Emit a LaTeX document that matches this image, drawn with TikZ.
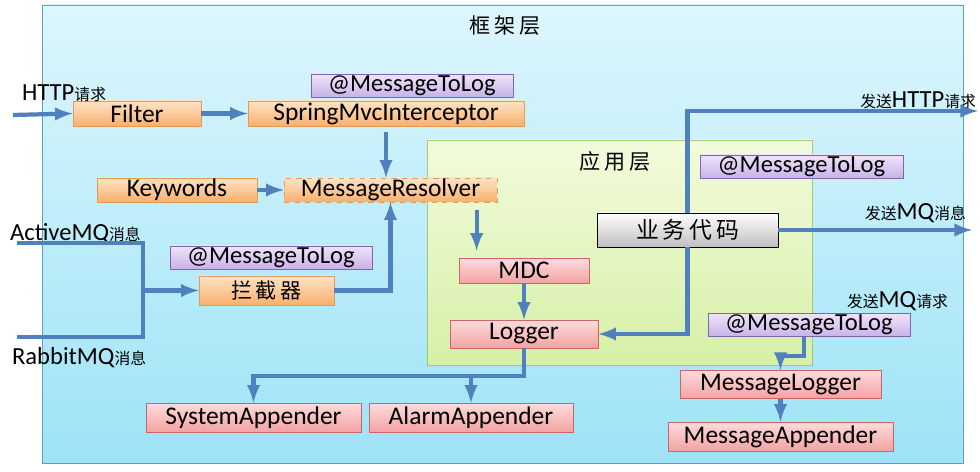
\documentclass[tikz,border=0pt]{standalone}
\usepackage{fontspec}
\setmainfont{Carlito}
\newfontfamily\cjk{Noto Sans CJK SC}
\usetikzlibrary{shapes,arrows,positioning}
\definecolor{arrowblue}{HTML}{4F81BD}
\definecolor{fwtop}{HTML}{DDF6FD}
\definecolor{fwbot}{HTML}{9EE3F7}
\definecolor{fwline}{HTML}{5BA3C0}
\definecolor{apptop}{HTML}{F2FBDC}
\definecolor{appbot}{HTML}{D6F0A6}
\definecolor{appline}{HTML}{A6C86E}
\definecolor{ortop}{HTML}{FEE3C6}
\definecolor{orbot}{HTML}{F8B06C}
\definecolor{orline}{HTML}{E39A55}
\definecolor{redtop}{HTML}{FDDCDC}
\definecolor{redbot}{HTML}{F3A2A2}
\definecolor{redline}{HTML}{CC6666}
\definecolor{purtop}{HTML}{EEE4FA}
\definecolor{purbot}{HTML}{C8B2E8}
\definecolor{purline}{HTML}{8066A8}
\tikzstyle{box}=[rectangle,draw,inner sep=0pt,font=\fontsize{14.5}{16}\selectfont]
\tikzstyle{orbox}=[box,top color=ortop,bottom color=orbot,draw=orline]
\tikzstyle{redbox}=[box,top color=redtop,bottom color=redbot,draw=redline,minimum height=0.56cm]
\tikzstyle{tagbox}=[box,top color=purtop,bottom color=purbot,draw=purline,minimum width=4.04cm,minimum height=0.46cm,font=\fontsize{14}{16}\selectfont]
\tikzstyle{graybox}=[box,top color=white,bottom color=gray!50,draw=black,font=\cjk\fontsize{13}{15}\selectfont]
\tikzstyle{lbl}=[inner sep=1pt,font=\fontsize{14}{16}\selectfont]
\tikzstyle{layertitle}=[inner sep=1pt,font=\cjk\fontsize{12}{14}\selectfont]
\tikzstyle{fwlayer}=[draw=fwline,top color=fwtop,bottom color=fwbot]
\tikzstyle{applayer}=[draw=appline,top color=apptop,bottom color=appbot]
\tikzstyle{arr}=[-latex,line width=2.4pt,draw=arrowblue]
\tikzstyle{line}=[line width=2.4pt,draw=arrowblue]

\begin{document}
\begin{tikzpicture}[x=0.02cm,y=-0.02cm]
\useasboundingbox (0,0) rectangle (980,472);
% layers
\draw[fwlayer] (42,5) rectangle (963,463);
\draw[applayer] (427,140) rectangle (812,365);
\node[layertitle] (fwtitle) at (505,26) {框\,架\,层};
\node[layertitle] (apptitle) at (615,162) {应\,用\,层};

% entry points
\node[orbox,minimum width=2.56cm,minimum height=0.5cm] (filter) at (137,113.5) {Filter};
\node[orbox,minimum width=5.52cm,minimum height=0.5cm] (smvc) at (386,113.5) {SpringMvcInterceptor};
\node[tagbox] (tagmvc) at (412,85.5) {@MessageToLog};
\node[orbox,minimum width=3.2cm,minimum height=0.48cm] (keywords) at (177,190) {Keywords};
\node[orbox,dashed,minimum width=4.26cm,minimum height=0.48cm] (resolver) at (390.5,190) {MessageResolver};
\node[tagbox] (tagmq) at (271,257.5) {@MessageToLog};
\node[orbox,minimum width=2.7cm,minimum height=0.58cm,font=\cjk\fontsize{12}{14}\selectfont] (intercept) at (266.5,290.5) {拦\,截\,器};

% application layer
\node[redbox,minimum width=2.6cm,minimum height=0.5cm] (mdc) at (524,270.5) {MDC};
\node[redbox,minimum width=2.96cm] (logger) at (524,334) {Logger};
\node[graybox,minimum width=3.62cm,minimum height=0.68cm] (biz) at (687.5,230) {业\,务\,代\,码};
\node[tagbox,minimum width=4.06cm] (tagbiz) at (801.5,166.5) {@MessageToLog};

% appenders
\node[redbox,minimum width=4.3cm,minimum height=0.58cm] (sysapp) at (253.5,417.5) {SystemAppender};
\node[redbox,minimum width=4.08cm,minimum height=0.58cm] (alarmapp) at (471,417.5) {AlarmAppender};
\node[tagbox] (tagsend) at (809,325) {@MessageToLog};
\node[redbox,minimum width=4.5cm,minimum height=0.58cm] (msgapp) at (780.5,436.5) {MessageAppender};
\node[redbox,minimum width=4.02cm,above=0.46cm of msgapp] (msglogger) {MessageLogger};

% labels
\node[lbl,anchor=west] (httplbl) at (20,93) {HTTP{\cjk\small 请求}};
\node[lbl,anchor=west] (amqlbl) at (8,234) {ActiveMQ{\cjk\small 消息}};
\node[lbl,anchor=west] (rmqlbl) at (10,358) {RabbitMQ{\cjk\small 消息}};
\node[lbl,anchor=east] (sendhttp) at (978,100) {{\cjk\small 发送}HTTP{\cjk\small 请求}};
\node[lbl,anchor=east] (sendmq) at (968,213) {{\cjk\small 发送}MQ{\cjk\small 消息}};
\node[lbl,anchor=east] (sendreq) at (950,301) {{\cjk\small 发送}MQ{\cjk\small 请求}};

\coordinate (httpin) at (13,115);
\coordinate (httpout) at (978,111);
\coordinate (mqout) at (972,230);
\coordinate (amq) at (17,243);
\coordinate (rmq) at (17,337);
\coordinate (mqjoin) at (143,290.5);

% connectors
\draw[arr] (httpin) -- (filter.west);
\draw[arr] (filter.east) -- (smvc.west);
\draw[arr,shorten <=0.12cm] (smvc.south) -- (smvc.south |- resolver.north);
\draw[arr] (keywords.east) -- (resolver.west);
\draw[line] (amq) -| (mqjoin) |- (rmq);
\draw[arr] (mqjoin) -- (intercept.west);
\draw[arr] (intercept.east) -| (resolver.south);
\draw[arr,shorten <=0.16cm,shorten >=0.14cm] ([xshift=0.36cm]mdc.north west |- resolver.south) -- ([xshift=0.36cm]mdc.north west);
\draw[arr] (mdc.south) -- (logger.north);
\draw[arr] (biz.south) |- (logger.east);
\draw[arr] (biz.north) |- (httpout);
\draw[arr] (biz.east) -- (mqout);
\draw[arr] (logger.south) -- ++(0,28) -| (sysapp.north);
\draw[arr] ([yshift=0.56cm]alarmapp.north) -- (alarmapp.north);
\draw[arr] ([xshift=-0.1cm]tagsend.south) -- ++(0,19) -| (msglogger.north);
\draw[arr] (msglogger.south) -- (msgapp.north);
\end{tikzpicture}
\end{document}
